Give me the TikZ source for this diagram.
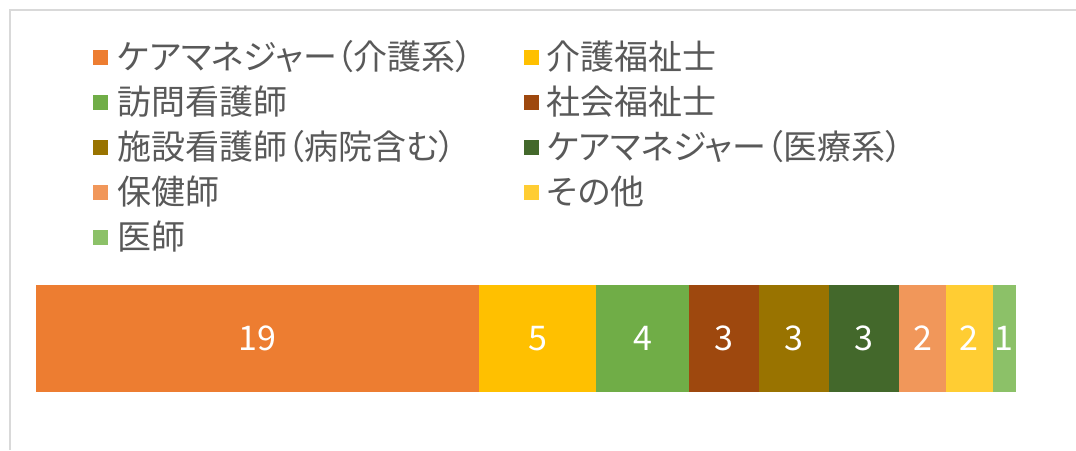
\documentclass[tikz,border=0pt]{standalone}
\usepackage{fontspec}
\usepackage{tikz}
\usepackage{xcolor}
\usetikzlibrary{positioning}
\newfontfamily\jpfont[RawFeature=+palt]{Noto Sans CJK JP}
\definecolor{care-orange}{HTML}{ED7D31}
\definecolor{kaigo-gold}{HTML}{FFC000}
\definecolor{visit-green}{HTML}{70AD47}
\definecolor{social-brown}{HTML}{9E480E}
\definecolor{facility-olive}{HTML}{997300}
\definecolor{medcare-green}{HTML}{43682B}
\definecolor{health-salmon}{HTML}{F1975A}
\definecolor{other-yellow}{HTML}{FFCD33}
\definecolor{doctor-green}{HTML}{8CC168}
\definecolor{label-gray}{HTML}{595959}
\definecolor{frame-gray}{HTML}{D9D9D9}
\tikzset{
    legend-key/.style = {rectangle, inner sep=0pt, minimum size=15pt},
    legend-text/.style = {inner sep=0pt, text=label-gray, font=\jpfont\fontsize{34}{36}\selectfont},
    bar-seg/.style = {rectangle, inner sep=0pt, outer sep=0pt, minimum height=107pt, text=white, font=\jpfont\fontsize{34}{36}\selectfont},
    frame-line/.style = {draw=frame-gray, line width=1.5pt},
}

\begin{document}
\begin{tikzpicture}[x=1pt, y=-1pt]
\useasboundingbox (0,0) rectangle (1076,450);
\draw[frame-line] (10,450) -- (10,10) -- (1076,10);
% legend
\node[legend-key, fill=care-orange] (key-care) at (100.5,57) {};
\node[legend-text, right=9pt of key-care] (txt-care) {ケアマネジャー（介護系）};
\node[legend-key, fill=kaigo-gold] (key-kaigo) at (531,57) {};
\node[legend-text, right=8pt of key-kaigo] (txt-kaigo) {介護福祉士};
\node[legend-key, fill=visit-green] (key-visit) at (100.5,102) {};
\node[legend-text, right=9pt of key-visit] (txt-visit) {訪問看護師};
\node[legend-key, fill=social-brown] (key-social) at (531,102) {};
\node[legend-text, right=8pt of key-social] (txt-social) {社会福祉士};
\node[legend-key, fill=facility-olive] (key-facility) at (100.5,147) {};
\node[legend-text, right=9pt of key-facility] (txt-facility) {施設看護師（病院含む）};
\node[legend-key, fill=medcare-green] (key-medcare) at (531,147) {};
\node[legend-text, right=8pt of key-medcare] (txt-medcare) {ケアマネジャー（医療系）};
\node[legend-key, fill=health-salmon] (key-health) at (100.5,192) {};
\node[legend-text, right=9pt of key-health] (txt-health) {保健師};
\node[legend-key, fill=other-yellow] (key-other) at (531,192) {};
\node[legend-text, right=8pt of key-other] (txt-other) {その他};
\node[legend-key, fill=doctor-green] (key-doctor) at (100.5,237) {};
\node[legend-text, right=9pt of key-doctor] (txt-doctor) {医師};
% stacked bar
\node[bar-seg, fill=care-orange, minimum width=443.33pt, anchor=west] (seg-care) at (36,338.5) {19};
\node[bar-seg, fill=kaigo-gold, minimum width=116.67pt, right=0pt of seg-care] (seg-kaigo) {5};
\node[bar-seg, fill=visit-green, minimum width=93.33pt, right=0pt of seg-kaigo] (seg-visit) {4};
\node[bar-seg, fill=social-brown, minimum width=70pt, right=0pt of seg-visit] (seg-social) {3};
\node[bar-seg, fill=facility-olive, minimum width=70pt, right=0pt of seg-social] (seg-facility) {3};
\node[bar-seg, fill=medcare-green, minimum width=70pt, right=0pt of seg-facility] (seg-medcare) {3};
\node[bar-seg, fill=health-salmon, minimum width=46.67pt, right=0pt of seg-medcare] (seg-health) {2};
\node[bar-seg, fill=other-yellow, minimum width=46.67pt, right=0pt of seg-health] (seg-other) {2};
\node[bar-seg, fill=doctor-green, minimum width=23.33pt, right=0pt of seg-other] (seg-doctor) {1};
\end{tikzpicture}
\end{document}
